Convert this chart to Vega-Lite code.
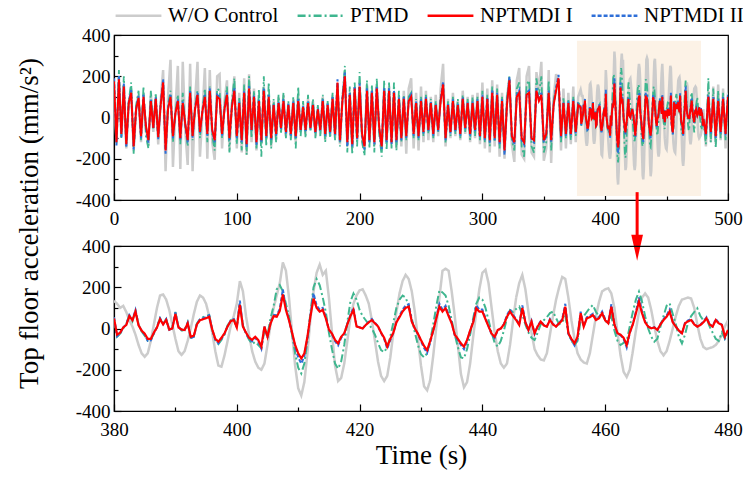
{
"$schema": "https://vega.github.io/schema/vega-lite/v6.json",
"padding": {"left": 14, "top": -9, "right": 0, "bottom": 6},
"bounds": "flush",
"spacing": 46,
"background": "#ffffff",
"config": {
 "font": "Liberation Serif",
 "view": {"stroke": "#000000", "strokeWidth": 1.2},
 "axis": {"labelFont": "Liberation Serif", "labelFontSize": 19, "labelColor": "#000000", "labelFlush": false, "labelOverlap": false, "domainColor": "#000000", "tickColor": "#000000", "domainWidth": 1.2, "tickWidth": 1.2, "grid": false, "titleFont": "Liberation Serif", "titleFontSize": 27, "titleFontWeight": "normal", "titleColor": "#000000"}
},
"resolve": {"scale": {"color": "shared", "strokeDash": "shared"}, "legend": {"color": "shared", "strokeDash": "shared"}},
"datasets": {
 "zoom": [{"t0": 377, "t1": 478, "y0": -380, "y1": 372}],
 "arrow": [{"t": 426, "y0": -362, "y1": -631}],
 "sig": [
{"t":0,"w":120,"p":150,"a":175,"b":190},{"t":2,"w":-110,"p":-130,"a":-120,"b":-135},{"t":4,"w":190,"p":230,"a":185,"b":205},{"t":6,"w":-90,"p":-100,"a":-80,"b":-95},{"t":8,"w":160,"p":200,"a":150,"b":165},{"t":10,"w":-150,"p":-140,"a":-130,"b":-145},{"t":12,"w":60,"p":80,"a":70,"b":78},{"t":14,"w":140,"p":170,"a":120,"b":132},{"t":16,"w":-160,"p":-175,"a":-140,"b":-155},{"t":18,"w":30,"p":60,"a":40,"b":45},{"t":20,"w":110,"p":130,"a":95,"b":104},{"t":22,"w":-120,"p":-110,"a":-90,"b":-100},{"t":24,"w":90,"p":150,"a":100,"b":110},{"t":26,"w":-50,"p":-90,"a":-40,"b":-48},{"t":28,"w":-140,"p":-150,"a":-110,"b":-122},{"t":30,"w":120,"p":130,"a":80,"b":90},{"t":32,"w":-70,"p":-60,"a":-50,"b":-55},{"t":34,"w":100,"p":120,"a":90,"b":98},{"t":36,"w":-130,"p":-100,"a":-95,"b":-105},{"t":38,"w":80,"p":70,"a":60,"b":65},
{"t":40,"w":230,"p":160,"a":170,"b":185},{"t":42,"w":-260,"p":-150,"a":-160,"b":-175},{"t":44,"w":100,"p":60,"a":40,"b":45},{"t":46,"w":280,"p":130,"a":100,"b":110},{"t":48,"w":-240,"p":-120,"a":-90,"b":-100},{"t":50,"w":40,"p":30,"a":20,"b":22},{"t":52,"w":250,"p":110,"a":80,"b":88},{"t":54,"w":-250,"p":-130,"a":-100,"b":-110},{"t":56,"w":270,"p":120,"a":70,"b":77},{"t":58,"w":-60,"p":-40,"a":-30,"b":-33},{"t":60,"w":-230,"p":-140,"a":-110,"b":-120},{"t":62,"w":260,"p":150,"a":120,"b":130},{"t":64,"w":-260,"p":-110,"a":-90,"b":-98},{"t":66,"w":80,"p":50,"a":40,"b":45},{"t":68,"w":270,"p":130,"a":110,"b":120},{"t":70,"w":-190,"p":-100,"a":-70,"b":-78},{"t":72,"w":20,"p":40,"a":30,"b":32},{"t":74,"w":240,"p":140,"a":100,"b":110},{"t":76,"w":-200,"p":-120,"a":-80,"b":-88},{"t":78,"w":230,"p":150,"a":130,"b":142},
{"t":80,"w":-120,"p":-90,"a":-60,"b":-65},{"t":82,"w":-205,"p":-160,"a":-110,"b":-120},{"t":84,"w":200,"p":140,"a":100,"b":110},{"t":86,"w":210,"p":130,"a":90,"b":100},{"t":88,"w":-150,"p":-100,"a":-80,"b":-88},{"t":90,"w":80,"p":60,"a":40,"b":44},{"t":92,"w":180,"p":150,"a":110,"b":120},{"t":94,"w":-160,"p":-170,"a":-100,"b":-110},{"t":96,"w":60,"p":80,"a":50,"b":55},{"t":98,"w":200,"p":190,"a":130,"b":142},{"t":100,"w":-150,"p":-130,"a":-90,"b":-100},{"t":102,"w":120,"p":100,"a":70,"b":76},{"t":104,"w":-170,"p":-160,"a":-110,"b":-120},{"t":106,"w":190,"p":160,"a":120,"b":130},{"t":108,"w":-180,"p":-180,"a":-130,"b":-143},{"t":110,"w":210,"p":200,"a":140,"b":152},{"t":112,"w":-120,"p":-100,"a":-60,"b":-66},{"t":114,"w":140,"p":130,"a":100,"b":110},{"t":116,"w":-160,"p":-150,"a":-120,"b":-132},{"t":118,"w":90,"p":140,"a":80,"b":88},
{"t":120,"w":-130,"p":-190,"a":-110,"b":-120},{"t":122,"w":150,"p":200,"a":130,"b":142},{"t":124,"w":-100,"p":-140,"a":-90,"b":-98},{"t":126,"w":110,"p":170,"a":100,"b":110},{"t":128,"w":-140,"p":-150,"a":-100,"b":-110},{"t":130,"w":80,"p":90,"a":60,"b":65},{"t":132,"w":-110,"p":-120,"a":-80,"b":-88},{"t":134,"w":100,"p":110,"a":70,"b":77},{"t":136,"w":-60,"p":-80,"a":-50,"b":-55},{"t":138,"w":110,"p":120,"a":80,"b":88},{"t":140,"w":-90,"p":-100,"a":-70,"b":-77},{"t":142,"w":70,"p":80,"a":60,"b":66},{"t":144,"w":-100,"p":-110,"a":-80,"b":-88},{"t":146,"w":90,"p":100,"a":70,"b":77},{"t":148,"w":-120,"p":-150,"a":-90,"b":-99},{"t":150,"w":110,"p":150,"a":80,"b":88},{"t":152,"w":-70,"p":-90,"a":-60,"b":-66},{"t":154,"w":60,"p":80,"a":50,"b":55},{"t":156,"w":-80,"p":-100,"a":-60,"b":-66},{"t":158,"w":90,"p":110,"a":70,"b":77},
{"t":160,"w":-60,"p":-70,"a":-50,"b":-55},{"t":162,"w":80,"p":90,"a":60,"b":66},{"t":164,"w":-90,"p":-100,"a":-70,"b":-77},{"t":166,"w":50,"p":60,"a":40,"b":44},{"t":168,"w":-80,"p":-90,"a":-60,"b":-66},{"t":170,"w":100,"p":110,"a":80,"b":88},{"t":172,"w":-110,"p":-120,"a":-80,"b":-88},{"t":174,"w":70,"p":80,"a":60,"b":66},{"t":176,"w":-90,"p":-100,"a":-70,"b":-77},{"t":178,"w":110,"p":120,"a":90,"b":99},{"t":180,"w":-100,"p":-110,"a":-80,"b":-88},{"t":182,"w":150,"p":160,"a":170,"b":185},{"t":184,"w":-130,"p":-140,"a":-110,"b":-120},{"t":186,"w":90,"p":100,"a":80,"b":88},{"t":188,"w":190,"p":250,"a":200,"b":218},{"t":190,"w":-140,"p":-170,"a":-120,"b":-140},{"t":192,"w":120,"p":150,"a":110,"b":120},{"t":194,"w":-150,"p":-180,"a":-130,"b":-142},{"t":196,"w":140,"p":170,"a":140,"b":152},{"t":198,"w":-110,"p":-140,"a":-100,"b":-110},
{"t":200,"w":170,"p":220,"a":150,"b":165},{"t":202,"w":-90,"p":-120,"a":-80,"b":-88},{"t":204,"w":-150,"p":-185,"a":-140,"b":-155},{"t":206,"w":160,"p":180,"a":130,"b":142},{"t":208,"w":-120,"p":-150,"a":-110,"b":-120},{"t":210,"w":130,"p":160,"a":120,"b":130},{"t":212,"w":-140,"p":-170,"a":-120,"b":-130},{"t":214,"w":150,"p":190,"a":140,"b":152},{"t":216,"w":-60,"p":-80,"a":-50,"b":-55},{"t":218,"w":-160,"p":-190,"a":-140,"b":-153},{"t":220,"w":140,"p":180,"a":130,"b":142},{"t":222,"w":-120,"p":-160,"a":-110,"b":-120},{"t":224,"w":150,"p":170,"a":130,"b":142},{"t":226,"w":-130,"p":-150,"a":-120,"b":-131},{"t":228,"w":120,"p":170,"a":120,"b":131},{"t":230,"w":-150,"p":-160,"a":-110,"b":-120},{"t":232,"w":100,"p":130,"a":90,"b":98},{"t":234,"w":-140,"p":-120,"a":-100,"b":-110},{"t":236,"w":130,"p":110,"a":90,"b":99},{"t":238,"w":-175,"p":-110,"a":-90,"b":-99},
{"t":240,"w":140,"p":100,"a":80,"b":88},{"t":242,"w":190,"p":120,"a":100,"b":110},{"t":244,"w":-150,"p":-100,"a":-80,"b":-88},{"t":246,"w":120,"p":90,"a":70,"b":77},{"t":248,"w":-160,"p":-110,"a":-90,"b":-99},{"t":250,"w":150,"p":100,"a":80,"b":88},{"t":252,"w":-120,"p":-90,"a":-70,"b":-77},{"t":254,"w":130,"p":110,"a":90,"b":99},{"t":256,"w":-110,"p":-80,"a":-60,"b":-66},{"t":258,"w":100,"p":90,"a":70,"b":77},{"t":260,"w":-120,"p":-100,"a":-80,"b":-88},{"t":262,"w":110,"p":80,"a":60,"b":66},{"t":264,"w":-90,"p":-70,"a":-60,"b":-66},{"t":266,"w":140,"p":100,"a":80,"b":88},{"t":268,"w":260,"p":150,"a":160,"b":175},{"t":270,"w":-140,"p":-125,"a":-100,"b":-110},{"t":272,"w":90,"p":80,"a":60,"b":66},{"t":274,"w":-100,"p":-90,"a":-70,"b":-77},{"t":276,"w":120,"p":100,"a":80,"b":88},{"t":278,"w":-90,"p":-80,"a":-60,"b":-66},
{"t":280,"w":80,"p":90,"a":60,"b":66},{"t":282,"w":-110,"p":-100,"a":-80,"b":-88},{"t":284,"w":130,"p":110,"a":90,"b":99},{"t":286,"w":-80,"p":-70,"a":-50,"b":-55},{"t":288,"w":100,"p":90,"a":70,"b":77},{"t":290,"w":-120,"p":-110,"a":-80,"b":-88},{"t":292,"w":110,"p":100,"a":70,"b":77},{"t":294,"w":-100,"p":-90,"a":-60,"b":-66},{"t":296,"w":120,"p":100,"a":80,"b":88},{"t":298,"w":-130,"p":-110,"a":-90,"b":-99},{"t":300,"w":170,"p":130,"a":100,"b":110},{"t":302,"w":-150,"p":-120,"a":-100,"b":-110},{"t":304,"w":140,"p":110,"a":90,"b":99},{"t":306,"w":-170,"p":-140,"a":-110,"b":-121},{"t":308,"w":180,"p":150,"a":120,"b":131},{"t":310,"w":-140,"p":-120,"a":-100,"b":-110},{"t":312,"w":160,"p":140,"a":110,"b":120},{"t":314,"w":-190,"p":-150,"a":-120,"b":-131},{"t":316,"w":120,"p":100,"a":80,"b":88},{"t":318,"w":-200,"p":-170,"a":-160,"b":-180},
{"t":320,"w":100,"p":90,"a":60,"b":66},{"t":322,"w":190,"p":200,"a":180,"b":196},{"t":324,"w":-130,"p":-110,"a":-90,"b":-99},{"t":326,"w":-215,"p":-160,"a":-120,"b":-131},{"t":328,"w":180,"p":140,"a":100,"b":110},{"t":330,"w":240,"p":170,"a":120,"b":131},{"t":332,"w":-180,"p":-140,"a":-100,"b":-110},{"t":334,"w":-200,"p":-190,"a":-120,"b":-131},{"t":336,"w":200,"p":160,"a":110,"b":120},{"t":338,"w":250,"p":180,"a":120,"b":131},{"t":340,"w":-170,"p":-140,"a":-100,"b":-110},{"t":342,"w":-190,"p":-170,"a":-110,"b":-120},{"t":344,"w":220,"p":190,"a":130,"b":142},{"t":346,"w":130,"p":110,"a":80,"b":88},{"t":348,"w":270,"p":200,"a":110,"b":120},{"t":350,"w":-210,"p":-170,"a":-110,"b":-120},{"t":352,"w":-150,"p":-120,"a":-80,"b":-88},{"t":354,"w":230,"p":180,"a":120,"b":131},{"t":356,"w":-220,"p":-160,"a":-110,"b":-120},{"t":358,"w":100,"p":80,"a":60,"b":66},
{"t":360,"w":210,"p":150,"a":130,"b":142},{"t":362,"w":170,"p":170,"a":190,"b":207},{"t":364,"w":-160,"p":-120,"a":-90,"b":-99},{"t":366,"w":140,"p":100,"a":70,"b":77},{"t":368,"w":-150,"p":-100,"a":-80,"b":-88},{"t":370,"w":120,"p":90,"a":70,"b":77},{"t":372,"w":-130,"p":-110,"a":-80,"b":-88},{"t":374,"w":150,"p":100,"a":80,"b":88},{"t":376,"w":-120,"p":-90,"a":-70,"b":-77},{"t":378,"w":100,"p":80,"a":60,"b":66},
{"t":380,"w":135,"p":40,"a":49,"b":55},{"t":380.5,"w":120,"p":-40,"a":-30,"b":-38},{"t":381,"w":100,"p":-25,"a":-20,"b":-24},{"t":381.5,"w":110,"p":0,"a":5,"b":4},{"t":382,"w":80,"p":20,"a":17,"b":20},{"t":382.5,"w":40,"p":65,"a":60,"b":66},{"t":383,"w":10,"p":35,"a":40,"b":44},{"t":383.5,"w":-30,"p":85,"a":82,"b":90},{"t":384,"w":-80,"p":20,"a":15,"b":18},{"t":384.5,"w":-120,"p":-15,"a":-10,"b":-12},
{"t":385,"w":-137,"p":-35,"a":-25,"b":-30},{"t":385.5,"w":-120,"p":-60,"a":-50,"b":-60},{"t":386,"w":-60,"p":-55,"a":-50,"b":-57},{"t":386.5,"w":20,"p":-25,"a":-20,"b":-22},{"t":387,"w":100,"p":10,"a":5,"b":6},{"t":387.5,"w":160,"p":50,"a":45,"b":50},{"t":388,"w":165,"p":25,"a":20,"b":22},{"t":388.5,"w":140,"p":45,"a":41,"b":46},{"t":389,"w":90,"p":-10,"a":-5,"b":-6},{"t":389.5,"w":20,"p":5,"a":0,"b":1},
{"t":390,"w":-50,"p":80,"a":70,"b":78},{"t":390.5,"w":-110,"p":10,"a":5,"b":6},{"t":391,"w":-128,"p":-10,"a":-5,"b":-6},{"t":391.5,"w":-110,"p":-10,"a":-7,"b":-8},{"t":392,"w":-60,"p":30,"a":25,"b":28},{"t":392.5,"w":0,"p":-45,"a":-40,"b":-46},{"t":393,"w":70,"p":-40,"a":-35,"b":-40},{"t":393.5,"w":130,"p":25,"a":20,"b":22},{"t":394,"w":160,"p":45,"a":40,"b":44},{"t":394.5,"w":150,"p":55,"a":45,"b":50},
{"t":395,"w":120,"p":60,"a":50,"b":56},{"t":395.5,"w":60,"p":65,"a":57,"b":64},{"t":396,"w":-20,"p":-5,"a":-5,"b":-6},{"t":396.5,"w":-110,"p":-55,"a":-50,"b":-56},{"t":397,"w":-180,"p":-75,"a":-64,"b":-72},{"t":397.5,"w":-185,"p":-55,"a":-45,"b":-50},{"t":398,"w":-130,"p":-30,"a":-23,"b":-26},{"t":398.5,"w":-60,"p":15,"a":10,"b":11},{"t":399,"w":10,"p":40,"a":35,"b":39},{"t":399.5,"w":60,"p":50,"a":41,"b":46},
{"t":400,"w":120,"p":10,"a":5,"b":6},{"t":400.5,"w":230,"p":120,"a":115,"b":135},{"t":401,"w":180,"p":15,"a":9,"b":10},{"t":401.5,"w":60,"p":-25,"a":-20,"b":-22},{"t":402,"w":-30,"p":-55,"a":-45,"b":-50},{"t":402.5,"w":-110,"p":-75,"a":-55,"b":-62},{"t":403,"w":-160,"p":-65,"a":-40,"b":-45},{"t":403.5,"w":-190,"p":-80,"a":-56,"b":-63},{"t":404,"w":-200,"p":-95,"a":-88,"b":-98},{"t":404.5,"w":-170,"p":-10,"a":9,"b":10},
{"t":405,"w":-80,"p":-30,"a":-40,"b":-45},{"t":405.5,"w":20,"p":50,"a":25,"b":28},{"t":406,"w":100,"p":110,"a":60,"b":66},{"t":406.5,"w":160,"p":190,"a":57,"b":64},{"t":407,"w":220,"p":210,"a":85,"b":95},{"t":407.5,"w":320,"p":180,"a":165,"b":190},{"t":408,"w":280,"p":120,"a":90,"b":100},{"t":408.5,"w":150,"p":60,"a":40,"b":44},{"t":409,"w":-20,"p":-30,"a":-20,"b":-22},{"t":409.5,"w":-180,"p":-120,"a":-80,"b":-90},
{"t":410,"w":-290,"p":-190,"a":-120,"b":-140},{"t":410.5,"w":-325,"p":-218,"a":-145,"b":-170},{"t":411,"w":-260,"p":-170,"a":-121,"b":-135},{"t":411.5,"w":-120,"p":-60,"a":-40,"b":-45},{"t":412,"w":50,"p":80,"a":60,"b":66},{"t":412.5,"w":180,"p":200,"a":145,"b":170},{"t":413,"w":270,"p":240,"a":100,"b":112},{"t":413.5,"w":310,"p":210,"a":82,"b":92},{"t":414,"w":260,"p":150,"a":90,"b":100},{"t":414.5,"w":280,"p":80,"a":49,"b":55},
{"t":415,"w":150,"p":-20,"a":-5,"b":-6},{"t":415.5,"w":-20,"p":-100,"a":-25,"b":-28},{"t":416,"w":-180,"p":-170,"a":-55,"b":-62},{"t":416.5,"w":-255,"p":-195,"a":-72,"b":-82},{"t":417,"w":-240,"p":-160,"a":-40,"b":-45},{"t":417.5,"w":-170,"p":-80,"a":-23,"b":-26},{"t":418,"w":-60,"p":30,"a":20,"b":22},{"t":418.5,"w":50,"p":130,"a":60,"b":66},{"t":419,"w":120,"p":170,"a":90,"b":100},{"t":419.5,"w":160,"p":140,"a":10,"b":11},
{"t":420,"w":185,"p":90,"a":5,"b":6},{"t":420.5,"w":190,"p":60,"a":0,"b":1},{"t":421,"w":160,"p":40,"a":17,"b":19},{"t":421.5,"w":120,"p":20,"a":30,"b":33},{"t":422,"w":40,"p":0,"a":41,"b":46},{"t":422.5,"w":-60,"p":-30,"a":25,"b":28},{"t":423,"w":-160,"p":-70,"a":10,"b":11},{"t":423.5,"w":-230,"p":-105,"a":-20,"b":-22},{"t":424,"w":-255,"p":-115,"a":-45,"b":-50},{"t":424.5,"w":-230,"p":-90,"a":-88,"b":-98},
{"t":425,"w":-140,"p":-40,"a":-50,"b":-56},{"t":425.5,"w":-20,"p":30,"a":-20,"b":-22},{"t":426,"w":80,"p":100,"a":30,"b":33},{"t":426.5,"w":170,"p":140,"a":55,"b":61},{"t":427,"w":230,"p":160,"a":82,"b":92},{"t":427.5,"w":260,"p":150,"a":100,"b":112},{"t":428,"w":240,"p":110,"a":106,"b":118},{"t":428.5,"w":180,"p":50,"a":33,"b":37},{"t":429,"w":80,"p":-20,"a":0,"b":0},{"t":429.5,"w":-50,"p":-80,"a":-25,"b":-28},
{"t":430,"w":-180,"p":-125,"a":-56,"b":-62},{"t":430.5,"w":-280,"p":-140,"a":-85,"b":-95},{"t":431,"w":-300,"p":-120,"a":-105,"b":-118},{"t":431.5,"w":-250,"p":-60,"a":-60,"b":-67},{"t":432,"w":-130,"p":20,"a":-10,"b":-11},{"t":432.5,"w":10,"p":110,"a":50,"b":56},{"t":433,"w":150,"p":185,"a":106,"b":120},{"t":433.5,"w":280,"p":175,"a":82,"b":92},{"t":434,"w":290,"p":160,"a":98,"b":110},{"t":434.5,"w":280,"p":110,"a":60,"b":67},
{"t":435,"w":180,"p":40,"a":25,"b":28},{"t":435.5,"w":60,"p":-30,"a":-30,"b":-33},{"t":436,"w":-80,"p":-90,"a":-50,"b":-56},{"t":436.5,"w":-220,"p":-140,"a":-72,"b":-80},{"t":437,"w":-285,"p":-145,"a":-88,"b":-100},{"t":437.5,"w":-260,"p":-100,"a":-56,"b":-62},{"t":438,"w":-170,"p":-30,"a":-10,"b":-11},{"t":438.5,"w":-40,"p":50,"a":30,"b":33},{"t":439,"w":80,"p":120,"a":98,"b":112},{"t":439.5,"w":190,"p":150,"a":82,"b":92},
{"t":440,"w":270,"p":140,"a":82,"b":92},{"t":440.5,"w":285,"p":100,"a":45,"b":50},{"t":441,"w":220,"p":40,"a":10,"b":11},{"t":441.5,"w":100,"p":-20,"a":-25,"b":-28},{"t":442,"w":-20,"p":-70,"a":-40,"b":-46},{"t":442.5,"w":-110,"p":-88,"a":-7,"b":-8},{"t":443,"w":-170,"p":-60,"a":0,"b":0},{"t":443.5,"w":-190,"p":-10,"a":20,"b":22},{"t":444,"w":-170,"p":50,"a":57,"b":64},{"t":444.5,"w":-80,"p":90,"a":82,"b":92},
{"t":445,"w":40,"p":80,"a":60,"b":66},{"t":445.5,"w":150,"p":95,"a":41,"b":46},{"t":446,"w":220,"p":106,"a":17,"b":19},{"t":446.5,"w":260,"p":70,"a":100,"b":112},{"t":447,"w":190,"p":20,"a":30,"b":33},{"t":447.5,"w":80,"p":-20,"a":-7,"b":-8},{"t":448,"w":-20,"p":-45,"a":33,"b":37},{"t":448.5,"w":-100,"p":-56,"a":-23,"b":-26},{"t":449,"w":-130,"p":-20,"a":10,"b":11},{"t":449.5,"w":-150,"p":20,"a":33,"b":37},
{"t":450,"w":-155,"p":40,"a":15,"b":17},{"t":450.5,"w":-120,"p":55,"a":9,"b":10},{"t":451,"w":-30,"p":75,"a":41,"b":46},{"t":451.5,"w":60,"p":82,"a":20,"b":22},{"t":452,"w":140,"p":50,"a":9,"b":10},{"t":452.5,"w":200,"p":20,"a":25,"b":28},{"t":453,"w":250,"p":30,"a":40,"b":45},{"t":453.5,"w":240,"p":60,"a":106,"b":120},{"t":454,"w":150,"p":-20,"a":-23,"b":-26},{"t":454.5,"w":40,"p":-60,"a":-50,"b":-56},
{"t":455,"w":-50,"p":-80,"a":-72,"b":-82},{"t":455.5,"w":-120,"p":-60,"a":-40,"b":-45},{"t":456,"w":-150,"p":40,"a":74,"b":82},{"t":456.5,"w":-165,"p":60,"a":9,"b":10},{"t":457,"w":-170,"p":80,"a":49,"b":55},{"t":457.5,"w":-120,"p":100,"a":55,"b":61},{"t":458,"w":-30,"p":114,"a":65,"b":72},{"t":458.5,"w":60,"p":80,"a":41,"b":46},{"t":459,"w":130,"p":60,"a":50,"b":56},{"t":459.5,"w":180,"p":70,"a":74,"b":82},
{"t":460,"w":190,"p":40,"a":40,"b":45},{"t":460.5,"w":195,"p":20,"a":25,"b":28},{"t":461,"w":170,"p":60,"a":106,"b":118},{"t":461.5,"w":100,"p":-10,"a":20,"b":22},{"t":462,"w":-20,"p":-60,"a":-23,"b":-26},{"t":462.5,"w":-130,"p":-80,"a":-30,"b":-33},{"t":463,"w":-210,"p":-70,"a":-45,"b":-50},{"t":463.5,"w":-235,"p":-60,"a":-80,"b":-92},{"t":464,"w":-200,"p":10,"a":-20,"b":-22},{"t":464.5,"w":-110,"p":80,"a":20,"b":22},
{"t":465,"w":-10,"p":140,"a":74,"b":82},{"t":465.5,"w":80,"p":179,"a":130,"b":150},{"t":466,"w":150,"p":130,"a":74,"b":82},{"t":466.5,"w":170,"p":60,"a":30,"b":33},{"t":467,"w":150,"p":0,"a":9,"b":10},{"t":467.5,"w":90,"p":-40,"a":1,"b":1},{"t":468,"w":10,"p":-64,"a":5,"b":6},{"t":468.5,"w":-60,"p":-50,"a":-7,"b":-8},{"t":469,"w":-110,"p":10,"a":20,"b":22},{"t":469.5,"w":-130,"p":60,"a":41,"b":46},
{"t":470,"w":-110,"p":110,"a":57,"b":64},{"t":470.5,"w":-60,"p":122,"a":82,"b":92},{"t":471,"w":0,"p":70,"a":30,"b":33},{"t":471.5,"w":60,"p":20,"a":9,"b":10},{"t":472,"w":110,"p":-40,"a":-10,"b":-11},{"t":472.5,"w":140,"p":-72,"a":-23,"b":-26},{"t":473,"w":145,"p":-30,"a":25,"b":28},{"t":473.5,"w":150,"p":30,"a":35,"b":39},{"t":474,"w":145,"p":60,"a":41,"b":46},{"t":474.5,"w":100,"p":80,"a":20,"b":22},
{"t":475,"w":20,"p":98,"a":9,"b":10},{"t":475.5,"w":-50,"p":60,"a":17,"b":19},{"t":476,"w":-90,"p":40,"a":30,"b":33},{"t":476.5,"w":-100,"p":50,"a":49,"b":55},{"t":477,"w":-95,"p":10,"a":20,"b":22},{"t":477.5,"w":-90,"p":-20,"a":9,"b":10},{"t":478,"w":-80,"p":-50,"a":41,"b":46},{"t":478.5,"w":-60,"p":-60,"a":25,"b":28},{"t":479,"w":-30,"p":-20,"a":17,"b":19},{"t":479.5,"w":10,"p":-50,"a":-40,"b":-46},
{"t":480,"w":40,"p":-20,"a":-7,"b":-8},
{"t":482,"w":-140,"p":-130,"a":-80,"b":-88},{"t":484,"w":130,"p":190,"a":100,"b":110},{"t":486,"w":-120,"p":-120,"a":-70,"b":-77},{"t":488,"w":150,"p":140,"a":90,"b":99},{"t":490,"w":-130,"p":-150,"a":-90,"b":-99},{"t":492,"w":160,"p":130,"a":80,"b":88},{"t":494,"w":-110,"p":-100,"a":-70,"b":-77},{"t":496,"w":140,"p":120,"a":90,"b":99},{"t":498,"w":-150,"p":-110,"a":-80,"b":-88},{"t":500,"w":120,"p":100,"a":100,"b":110}
 ]
},
"vconcat": [
 {
  "width": 614, "height": 165,
  "resolve": {"axis": {"x": "independent", "y": "independent"}},
  "layer": [
   {"data": {"name": "zoom"}, "mark": {"type": "rect", "color": "#fcf2e6"},
    "encoding": {
     "x": {"field": "t0", "type": "quantitative", "scale": {"domain": [0, 500], "nice": false}, "axis": {"orient": "bottom", "values": [0,100,200,300,400,500], "title": null, "tickSize": -7, "labelPadding": 16, "labelFlush": false, "labelExpr": "'' + datum.value"}},
     "x2": {"field": "t1"},
     "y": {"field": "y0", "type": "quantitative", "scale": {"domain": [-400, 400], "nice": false}, "axis": {"orient": "left", "values": [-400,-200,0,200,400], "title": null, "tickSize": -7, "labelPadding": 11, "labelFlush": false, "labelExpr": "'' + datum.value"}},
     "y2": {"field": "y1"}}},
   {"data": {"name": "sig"}, "transform": [{"fold": ["w"], "as": ["s", "v"]}],
    "mark": {"type": "line", "strokeWidth": 2.5, "clip": true},
    "encoding": {
     "x": {"field": "t", "type": "quantitative", "axis": {"orient": "bottom", "values": [50,150,250,350,450], "labels": false, "title": null, "tickSize": -4, "domain": false}},
     "y": {"field": "v", "type": "quantitative", "axis": {"orient": "left", "values": [-300,-100,100,300], "labels": false, "title": null, "tickSize": -4, "domain": false}},
     "color": {"field": "s", "type": "nominal", "title": null, "scale": {"domain": ["w","p","a","b"], "range": ["#cccccc","#3fb68f","#ff0000","#2e6fd8"]},
       "legend": {"orient": "none", "legendX": 0, "legendY": -44, "direction": "horizontal", "title": null, "labelFont": "Liberation Serif", "labelFontSize": 21, "labelColor": "#000000", "symbolType": "stroke", "symbolSize": 2100, "symbolStrokeWidth": 2.5, "columnPadding": 13, "labelOffset": 5, "padding": 0,
         "labelExpr": "datum.value == 'w' ? 'W/O Control' : datum.value == 'p' ? 'PTMD' : datum.value == 'a' ? 'NPTMDI I' : 'NPTMDI II'"}},
     "strokeDash": {"field": "s", "type": "nominal", "title": null, "scale": {"domain": ["w","p","a","b"], "range": [[1,0],[8,3,2,3],[1,0],[4,2]]}}}},
   {"data": {"name": "sig"}, "transform": [{"fold": ["p"], "as": ["s", "v"]}],
    "mark": {"type": "line", "strokeWidth": 1.8, "clip": true},
    "encoding": {"x": {"field": "t", "type": "quantitative", "axis": null}, "y": {"field": "v", "type": "quantitative", "axis": null},
     "color": {"field": "s", "type": "nominal", "title": null}, "strokeDash": {"field": "s", "type": "nominal", "title": null}}},
   {"data": {"name": "sig"}, "transform": [{"fold": ["b"], "as": ["s", "v"]}],
    "mark": {"type": "line", "strokeWidth": 2, "clip": true},
    "encoding": {"x": {"field": "t", "type": "quantitative", "axis": null}, "y": {"field": "v", "type": "quantitative", "axis": null},
     "color": {"field": "s", "type": "nominal", "title": null}, "strokeDash": {"field": "s", "type": "nominal", "title": null}}},
   {"data": {"name": "sig"}, "transform": [{"fold": ["a"], "as": ["s", "v"]}],
    "mark": {"type": "line", "strokeWidth": 2, "clip": true},
    "encoding": {"x": {"field": "t", "type": "quantitative", "axis": null}, "y": {"field": "v", "type": "quantitative", "axis": null},
     "color": {"field": "s", "type": "nominal", "title": null}, "strokeDash": {"field": "s", "type": "nominal", "title": null}}},
   {"data": {"name": "arrow"}, "mark": {"type": "rule", "color": "#ff0000", "strokeWidth": 3, "clip": false},
    "encoding": {"x": {"field": "t", "type": "quantitative", "axis": null}, "y": {"field": "y0", "type": "quantitative", "axis": null}, "y2": {"field": "y1"}}},
   {"data": {"name": "arrow"}, "mark": {"type": "point", "shape": "M-0.45,-1L0.45,-1L0,1Z", "filled": true, "color": "#ff0000", "opacity": 1, "size": 676, "clip": false},
    "encoding": {"x": {"field": "t", "type": "quantitative", "axis": null}, "y": {"field": "y1", "type": "quantitative", "axis": null}}}
  ]
 },
 {
  "width": 614, "height": 165,
  "resolve": {"axis": {"x": "independent", "y": "independent"}},
  "layer": [
   {"data": {"name": "sig"}, "transform": [{"filter": {"field": "t", "range": [380, 480]}}, {"fold": ["w"], "as": ["s", "v"]}],
    "mark": {"type": "line", "strokeWidth": 2.5, "clip": true},
    "encoding": {
     "x": {"field": "t", "type": "quantitative", "scale": {"domain": [380, 480], "nice": false}, "axis": {"orient": "bottom", "values": [380,400,420,440,460,480], "title": "Time (s)", "titlePadding": 3, "tickSize": -7, "labelPadding": 16, "labelFlush": false, "labelExpr": "'' + datum.value"}},
     "y": {"field": "v", "type": "quantitative", "scale": {"domain": [-400, 400], "nice": false}, "axis": {"orient": "left", "values": [-400,-200,0,200,400], "title": "Top floor acceleration (mm/s²)", "titleX": -85, "titleY": -23, "titleAngle": -90, "titleAlign": "center", "titleBaseline": "middle", "tickSize": -7, "labelPadding": 11, "labelFlush": false, "labelExpr": "'' + datum.value"}},
     "color": {"field": "s", "type": "nominal", "title": null},
     "strokeDash": {"field": "s", "type": "nominal", "title": null}}},
   {"data": {"name": "sig"}, "transform": [{"filter": {"field": "t", "range": [380, 480]}}, {"fold": ["p"], "as": ["s", "v"]}],
    "mark": {"type": "line", "strokeWidth": 2, "clip": true},
    "encoding": {
     "x": {"field": "t", "type": "quantitative", "axis": {"orient": "bottom", "values": [390,410,430,450,470], "labels": false, "title": null, "tickSize": -4, "domain": false}},
     "y": {"field": "v", "type": "quantitative", "axis": {"orient": "left", "values": [-300,-100,100,300], "labels": false, "title": null, "tickSize": -4, "domain": false}},
     "color": {"field": "s", "type": "nominal", "title": null}, "strokeDash": {"field": "s", "type": "nominal", "title": null}}},
   {"data": {"name": "sig"}, "transform": [{"filter": {"field": "t", "range": [380, 480]}}, {"fold": ["b"], "as": ["s", "v"]}],
    "mark": {"type": "line", "strokeWidth": 2, "clip": true},
    "encoding": {"x": {"field": "t", "type": "quantitative", "axis": null}, "y": {"field": "v", "type": "quantitative", "axis": null},
     "color": {"field": "s", "type": "nominal", "title": null}, "strokeDash": {"field": "s", "type": "nominal", "title": null}}},
   {"data": {"name": "sig"}, "transform": [{"filter": {"field": "t", "range": [380, 480]}}, {"fold": ["a"], "as": ["s", "v"]}],
    "mark": {"type": "line", "strokeWidth": 2.2, "clip": true},
    "encoding": {"x": {"field": "t", "type": "quantitative", "axis": null}, "y": {"field": "v", "type": "quantitative", "axis": null},
     "color": {"field": "s", "type": "nominal", "title": null}, "strokeDash": {"field": "s", "type": "nominal", "title": null}}}
  ]
 }
]
}
